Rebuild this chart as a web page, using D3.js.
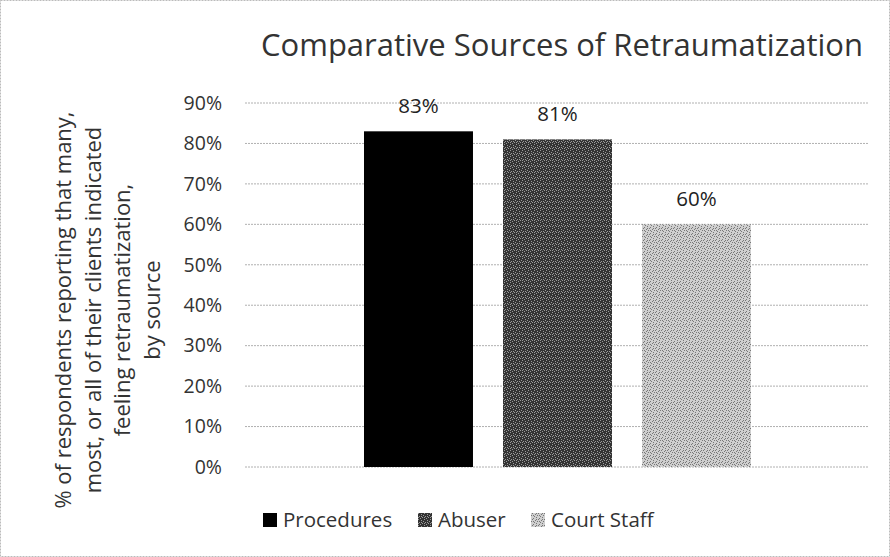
<!DOCTYPE html>
<html><head><meta charset="utf-8">
<script src="https://cdn.jsdelivr.net/npm/d3@7"></script>
<style>body{margin:0;background:#fff}text{font-family:"Open Sans","Noto Sans",sans-serif}</style>
</head><body>
<svg id="c" width="890" height="557"></svg>
<script>
const series = ["Procedures", "Abuser", "Court Staff"];
const values = [0.83, 0.81, 0.60];
const labels = ["83%", "81%", "60%"];
const yTicks = [0, 0.1, 0.2, 0.3, 0.4, 0.5, 0.6, 0.7, 0.8, 0.9];
const title = "Comparative Sources of Retraumatization";
const yTitle = ["% of respondents reporting that many,", "most, or all of their clients indicated", "feeling retraumatization,", "by source"];

const svg = d3.select("#c");
const defs = svg.append("defs");
function noise(id, bg, fg, cells) {
  const p = defs.append("pattern").attr("id", id).attr("width", 6).attr("height", 6).attr("patternUnits", "userSpaceOnUse");
  p.append("rect").attr("width", 6).attr("height", 6).attr("fill", bg);
  cells.forEach(c => p.append("rect").attr("x", c[0]).attr("y", c[1]).attr("width", 1).attr("height", 1).attr("fill", fg));
}
noise("pAbuser", "#333", "#9a9a9a", [[0,0],[3,1],[5,2],[1,3],[4,4],[2,5],[0,4],[3,3]]);
noise("pCourt", "#cfcfcf", "#777", [[1,0],[4,1],[0,2],[3,3],[5,4],[2,5],[5,0],[2,2]]);
const fills = ["#000", "url(#pAbuser)", "url(#pCourt)"];

// border
svg.append("rect").attr("x", 0.5).attr("y", 0.5).attr("width", 889).attr("height", 556)
  .attr("fill", "none").attr("stroke", "#bbb").attr("stroke-dasharray", "2,1");

const y = d3.scaleLinear().domain([0, 0.9]).range([467, 103]);
const x = d3.scaleBand().domain(series).range([364, 751]).paddingInner(0.216);
const left = 245, right = 869;

// gridlines
svg.append("g").selectAll("line").data(yTicks).join("line")
  .attr("x1", left).attr("x2", right).attr("y1", d => y(d)).attr("y2", d => y(d))
  .attr("stroke", "#b0b0b0").attr("stroke-width", 1).attr("stroke-dasharray", "2,1");

// y axis labels
const ya = svg.append("g").attr("transform", `translate(222,0)`)
  .call(d3.axisLeft(y).tickValues(yTicks).tickFormat(d3.format(".0%")).tickSize(0).tickPadding(0));
ya.select(".domain").remove();
ya.selectAll("text").attr("font-size", 19.5).attr("fill", "#333").attr("font-family", "'Open Sans',sans-serif");

// bars
svg.append("g").selectAll("rect").data(series).join("rect")
  .attr("x", d => x(d)).attr("width", x.bandwidth())
  .attr("y", (d, i) => y(values[i])).attr("height", (d, i) => y(0) - y(values[i]))
  .attr("fill", (d, i) => fills[i]);

// data labels
svg.append("g").selectAll("text").data(series).join("text")
  .attr("x", d => x(d) + x.bandwidth() / 2).attr("y", (d, i) => y(values[i]) - 18)
  .attr("text-anchor", "middle").attr("font-size", 20.5).attr("fill", "#222")
  .text((d, i) => labels[i]);

// title
svg.append("text").attr("x", 562).attr("y", 56).attr("text-anchor", "middle")
  .attr("font-size", 31).attr("fill", "#333").text(title);

// y title
const yt = svg.append("text").attr("transform", "translate(0,310) rotate(-90)")
  .attr("text-anchor", "middle").attr("font-size", 22).attr("fill", "#333");
yTitle.forEach((t, i) => yt.append("tspan").attr("x", 0).attr("y", 71 + i * 29.5).text(t));

// legend
const legX = [263, 418, 531];
const lg = svg.append("g").selectAll("g").data(series).join("g")
  .attr("transform", (d, i) => `translate(${legX[i]},513)`);
lg.append("rect").attr("width", 14).attr("height", 14).attr("fill", (d, i) => fills[i]);
lg.append("text").attr("x", 20).attr("y", 14).attr("font-size", 20.5).attr("fill", "#333").text(d => d);
</script>
</body></html>
